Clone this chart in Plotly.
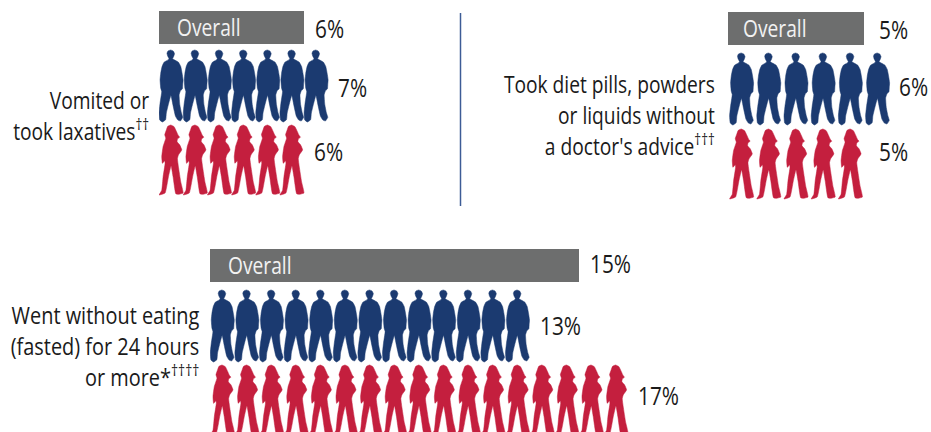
import plotly.graph_objects as go

W, H = 931, 432
FONT = "Open Sans, sans-serif"
NAVY, RED, GRAY, DIV = "#1b3a70", "#c41f3e", "#6d6e6e", "#3d5c96"

categories = [
    "Vomited or<br>took laxatives<sup>††</sup>",
    "Took diet pills, powders<br>or liquids without<br>a doctor's advice<sup>†††</sup>",
    "Went without eating<br>(fasted) for 24 hours<br>or more*<sup>††††</sup>",
]
overall = [6, 5, 15]
males = [7, 6, 13]
females = [6, 5, 17]

# layout: left px, px per percent, axis span, bar top px, man top px, woman top px,
# label right px, label centre y, value-label gaps and y positions
panels = [
    dict(x0=159, ppu=24.17, span=10, bar=11, man=50, woman=125, lx=151, ly=115, title_y=26, title_x=16,
         gaps=(9, 8, 8), vy=(28, 87, 151)),
    dict(x0=728, ppu=27.2, span=7.3, bar=12, man=53, woman=129, lx=717, ly=114, title_y=27, title_x=13,
         gaps=(13, 6, 13), vy=(29, 86, 151)),
    dict(x0=210, ppu=24.6, span=18, bar=249, man=290, woman=365, lx=201, ly=345, title_y=264, title_x=16,
         gaps=(9, 8, 8), vy=(263, 325, 395)),
]

# Icon silhouettes, drawn in their own local units
MAN = [(38,15),(46,18),(50,26),(47,35),(44,41),(52,46),(62,52),(69,65),(73,85),(76,105),(75,118),(74,132),
       (68,138),(64,150),(66,180),(71,205),(75,218),(68,229),(60,226),(53,215),(46,185),(39,152),(31,180),
       (25,205),(23,225),(13,232),(5,226),(3,205),(6,175),(11,140),(8,130),(6,105),(8,85),(12,65),(18,52),
       (30,45),(33,41),(29,33),(27,25),(30,18),(38,15)]
WOMAN = [(65,376),(75,381),(82,395),(88,408),(92,412),(85,418),(84,426),(92,435),(98,450),(88,465),(85,476),
         (88,500),(95,545),(102,578),(88,582),(80,580),(72,530),(66,497),(58,530),(48,578),(30,584),(38,570),
         (42,530),(48,490),(47,482),(40,490),(38,470),(42,440),(50,415),(47,405),(52,390),(56,380),(65,376)]


def norm(poly):
    xs, ys = zip(*poly)
    return [((x - min(xs)) / (max(xs) - min(xs)), (y - min(ys)) / (max(ys) - min(ys))) for x, y in poly]


MAN_U, WOMAN_U = norm(MAN), norm(WOMAN)


def icons(shape, n, width, pad, top, height):
    xs, ys = [], []
    for i in range(n):
        for u, v in shape:
            xs.append(i + pad + u * width)
            ys.append(top + v * height)
        xs.append(None)
        ys.append(None)
    return xs, ys


fig = go.Figure()
annotations = []
for k, p in enumerate(panels):
    ax = "" if k == 0 else str(k + 1)
    xa = "x" + ax
    ppu = p["ppu"]
    fig.add_bar(x=[overall[k]], y=[p["bar"] + 16.5], width=[33], orientation="h",
                marker=dict(color=GRAY, line_width=0), xaxis=xa, yaxis="y", showlegend=False)
    iw = 24 / ppu
    pad = (1 - iw) / 2
    for shape, n, top, h, col in ((MAN_U, males[k], p["man"], 72, NAVY),
                                  (WOMAN_U, females[k], p["woman"], 70, RED)):
        xs, ys = icons(shape, n, iw, pad, top, h)
        fig.add_scatter(x=xs, y=ys, mode="lines", fill="toself", fillcolor=col,
                        line=dict(color=col, width=0.5, shape="spline", smoothing=0.35),
                        xaxis=xa, yaxis="y", showlegend=False, hoverinfo="skip")
    fig.update_layout({
        "xaxis" + ax: dict(domain=[p["x0"] / W, (p["x0"] + p["span"] * ppu) / W], range=[0, p["span"]],
                           visible=False, fixedrange=True, anchor="y")
    })
    common = dict(showarrow=False, font=dict(family=FONT, size=26, color="#1a1a1a"), yref="y", xanchor="left")
    annotations.append(dict(common, x=0, xref=xa, xshift=p["title_x"], y=p["title_y"], text="Overall",
                            font=dict(family=FONT, size=24, color="#f2f2f2")))
    for val, y, gap in zip((overall[k], males[k], females[k]), p["vy"], p["gaps"]):
        annotations.append(dict(common, x=val, xref=xa, xshift=gap, y=y, text=f"{val}%"))
    annotations.append(dict(showarrow=False, font=dict(family=FONT, size=24, color="#1a1a1a"),
                            x=p["lx"] / W, xref="paper", xanchor="right", align="right",
                            y=p["ly"], yref="y", text=categories[k]))

fig.update_layout(
    width=W, height=H, margin=dict(l=0, r=0, t=0, b=0),
    paper_bgcolor="white", plot_bgcolor="rgba(0,0,0,0)",
    yaxis=dict(domain=[0, 1], range=[H, 0], visible=False, fixedrange=True),
    annotations=annotations, showlegend=False, bargap=0,
    shapes=[dict(type="line", xref="paper", yref="y", x0=460.5 / W, x1=460.5 / W, y0=13, y1=206,
                 line=dict(color=DIV, width=1.5))],
)

POST = """
document.body.style.margin = '0';
document.documentElement.style.overflow = 'hidden';
(function () {
  var gd = document.getElementById('{plot_id}');
  function squeeze() {
    var anns = gd.querySelectorAll('.annotation');
    if (!anns.length) { setTimeout(squeeze, 20); return; }
    anns.forEach(function (a) {
      var t = a.querySelector('text.annotation-text');
      var b = t.getBBox();
      var right = t.querySelectorAll('.line').length > 1;
      var ox = right ? b.x + b.width : b.x;
      var s = t.textContent.indexOf('Went') === 0 ? 0.83 : 0.8;
      t.setAttribute('transform', 'translate(' + ox + ',0) scale(' + s + ',1) translate(' + (-ox) + ',0)');
    });
  }
  squeeze();
})();
"""
fig.write_html("out.html", config={"displayModeBar": False}, post_script=POST)
